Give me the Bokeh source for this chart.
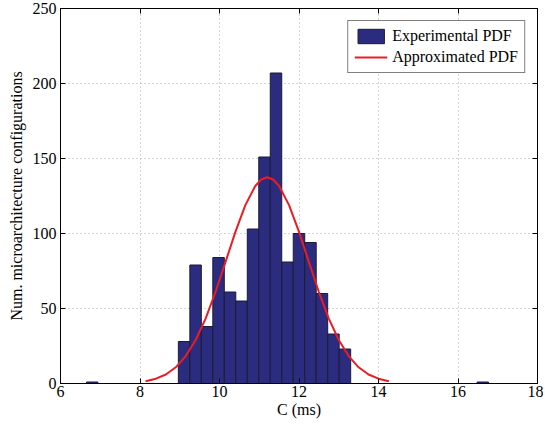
from bokeh.plotting import figure
from bokeh.models import LinearAxis, Legend, LegendItem, FixedTicker, Range1d
from bokeh.embed import file_html
from bokeh.resources import INLINE

# ---- data ----
hist_start = 6.653          # left edge of first bin (ms)
bin_width = 0.289           # bin width (ms)
counts = [1, 0, 0, 0, 0, 0, 0, 0,
          28, 79, 38, 84, 61, 55, 103, 151, 207, 81, 100, 94, 60, 33, 23,
          0, 0, 0, 0, 0, 0, 0, 0, 0, 0, 0, 1]

pdf_x = [8.14, 8.4, 8.65, 8.9, 9.15, 9.4, 9.65, 9.9, 10.15, 10.4, 10.65, 10.9,
         11.05, 11.2, 11.35, 11.5, 11.75, 12.0, 12.25, 12.5, 12.75, 13.0,
         13.25, 13.5, 13.75, 14.0, 14.26]
pdf_y = [1.5, 3.2, 6.0, 10.8, 18.3, 29.0, 43.3, 61.0, 80.9, 101.1, 118.9, 131.7,
         136.0, 137.5, 136.0, 131.7, 118.9, 101.1, 80.9, 61.0, 43.3, 29.0,
         18.3, 10.8, 6.0, 3.2, 1.5]

x_ticks = [6, 8, 10, 12, 14, 16, 18]
y_ticks = [0, 50, 100, 150, 200, 250]
x_label = "C (ms)"
y_label = "Num. microarchitecture configurations"
legend_labels = ["Experimental PDF", "Approximated PDF"]

lefts = [hist_start + i * bin_width for i in range(len(counts))]
rights = [l + bin_width for l in lefts]

FONT = "Liberation Serif"

p = figure(frame_width=477, frame_height=375,
           x_range=Range1d(6, 18), y_range=Range1d(0, 250),
           output_backend="svg", toolbar_location=None,
           min_border_left=60, min_border_right=6, min_border_top=8,
           min_border_bottom=36, background_fill_color="white",
           border_fill_color="white")
p.outline_line_color = "black"
p.outline_line_width = 1

bars = p.quad(left=lefts, right=rights, bottom=0, top=counts,
              fill_color="#2b2b80", line_color="#1c1c30", line_width=1)
curve = p.line(pdf_x, pdf_y, line_color="#ec1c24", line_width=2)

# axes
for ax in (p.xaxis[0], p.yaxis[0]):
    ax.major_tick_in = 5
    ax.major_tick_out = 0
    ax.minor_tick_in = 0
    ax.minor_tick_out = 0
    ax.axis_line_color = "black"
    ax.major_tick_line_color = "black"
    ax.major_label_text_font = FONT
    ax.major_label_text_font_size = "16px"
    ax.major_label_text_color = "black"
    ax.axis_label_text_font = FONT
    ax.axis_label_text_font_size = "16px"
    ax.axis_label_text_font_style = "normal"
    ax.axis_label_text_color = "black"

p.xaxis[0].ticker = FixedTicker(ticks=x_ticks)
p.yaxis[0].ticker = FixedTicker(ticks=y_ticks)
p.xaxis[0].axis_label = x_label
p.yaxis[0].axis_label = y_label
p.xaxis[0].major_label_standoff = 2
p.xaxis[0].axis_label_standoff = 1
p.yaxis[0].major_label_standoff = 4
p.yaxis[0].axis_label_standoff = 5

# mirrored top/right ticks (box style)
top = LinearAxis(ticker=FixedTicker(ticks=x_ticks))
right = LinearAxis(ticker=FixedTicker(ticks=y_ticks))
for ax in (top, right):
    ax.major_tick_in = 5
    ax.major_tick_out = 0
    ax.minor_tick_in = 0
    ax.minor_tick_out = 0
    ax.major_label_text_font_size = "1px"
    ax.major_label_text_color = None
    ax.major_label_standoff = 0
    ax.axis_line_color = "black"
p.add_layout(top, "above")
p.add_layout(right, "right")

# grid
for g in (p.xgrid[0], p.ygrid[0]):
    g.grid_line_color = "#a8a8a8"
    g.grid_line_dash = "1 3"
    g.grid_line_width = 1
p.xgrid[0].ticker = FixedTicker(ticks=x_ticks)
p.ygrid[0].ticker = FixedTicker(ticks=y_ticks)

legend = Legend(items=[LegendItem(label=legend_labels[0], renderers=[bars]),
                       LegendItem(label=legend_labels[1], renderers=[curve])],
                location="top_right")
legend.margin = 12
legend.padding = 6
legend.spacing = 3
legend.glyph_width = 33
legend.glyph_height = 18
legend.label_standoff = 5
legend.label_text_font = FONT
legend.label_text_font_size = "16px"
legend.label_text_color = "black"
legend.border_line_color = "black"
legend.border_line_width = 1
legend.background_fill_color = "white"
legend.background_fill_alpha = 1.0
p.add_layout(legend, "center")

open("out.html", "w").write(file_html(p, INLINE))
